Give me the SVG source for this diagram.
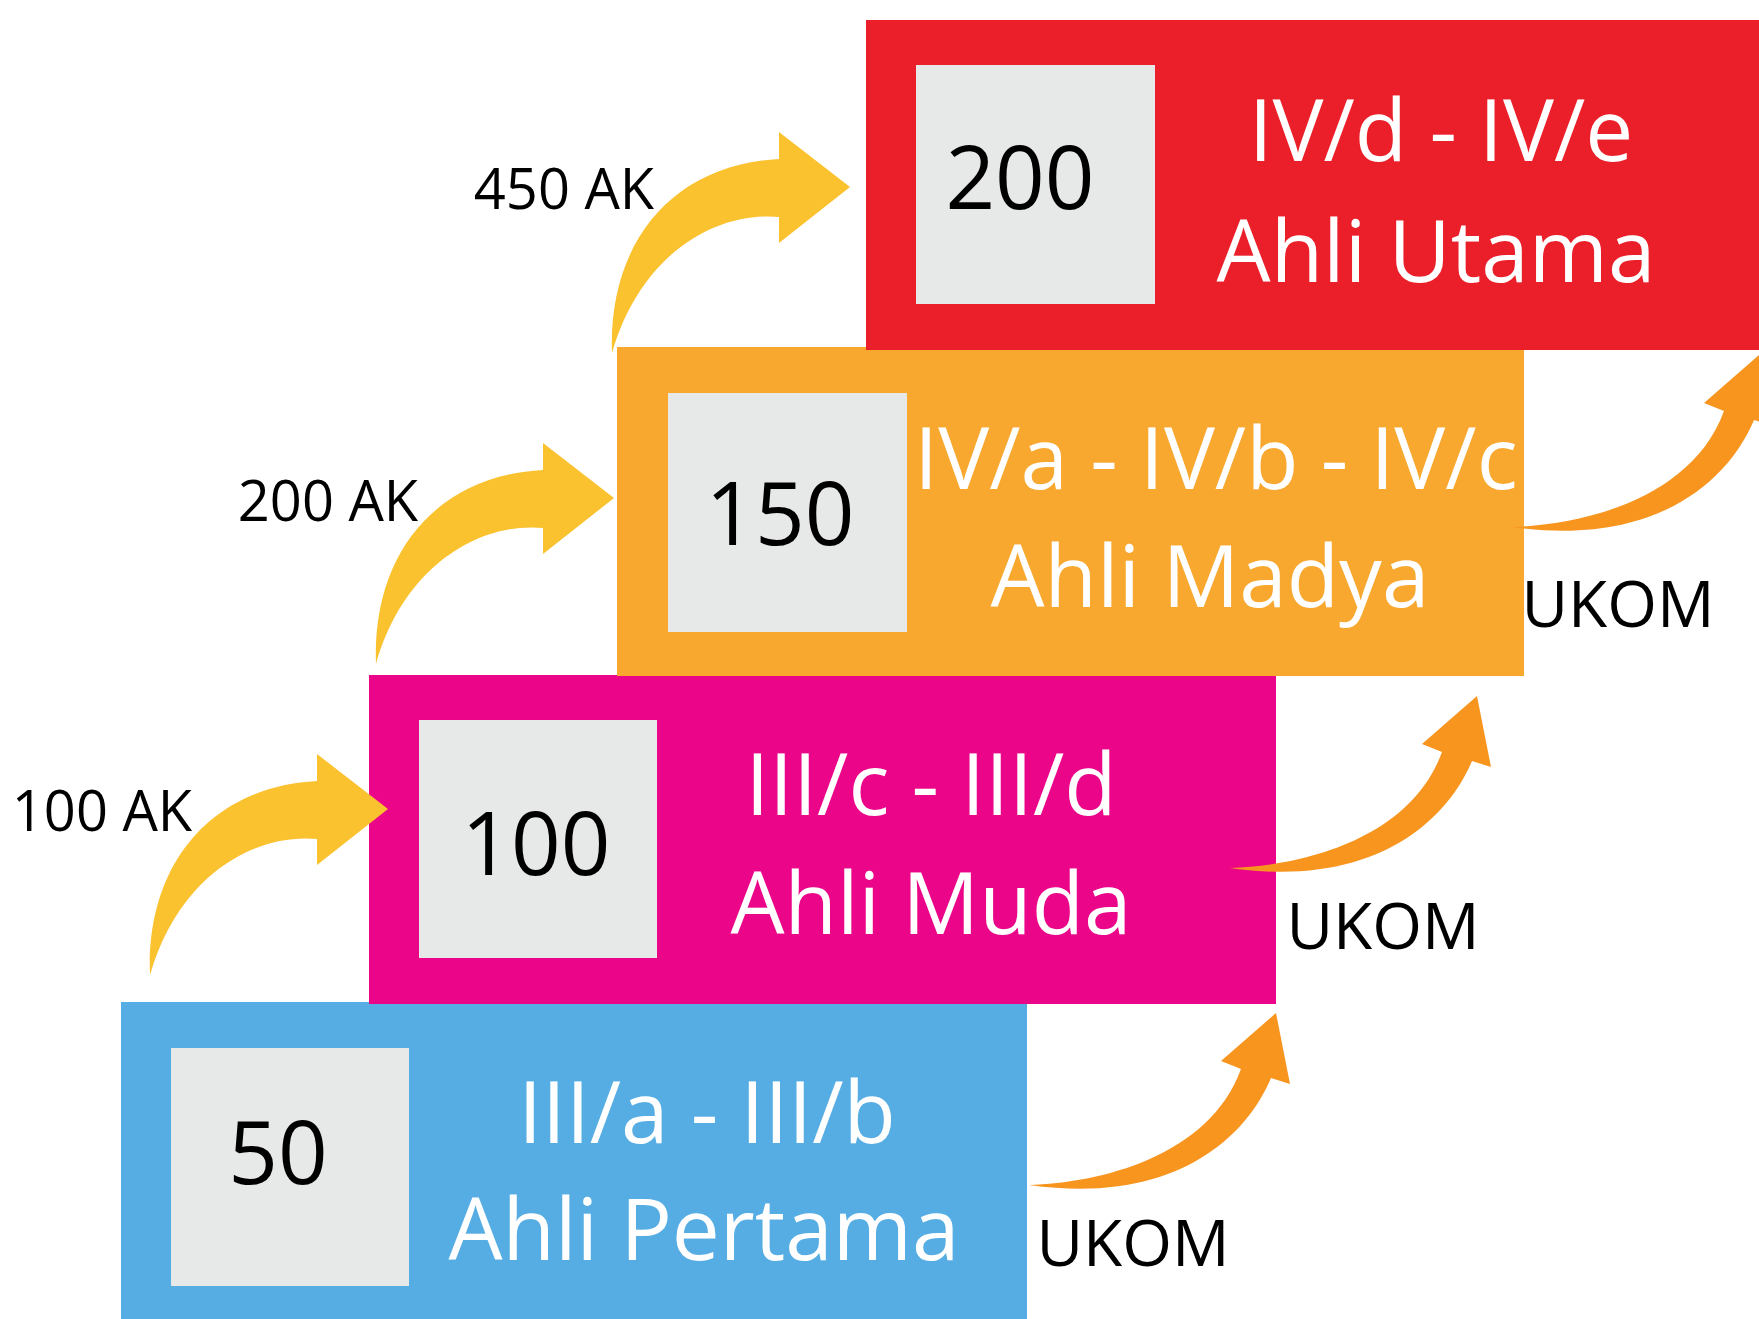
<svg xmlns="http://www.w3.org/2000/svg" xmlns:xlink="http://www.w3.org/1999/xlink" width="1759" height="1319" viewBox="0 0 1759 1319">
  <style>
    .lbl { font-family: "Open Sans", "Noto Sans", sans-serif; fill: #ffffff; font-size: 85.5px; text-anchor: middle; }
    .num { font-family: "Open Sans", "Noto Sans", sans-serif; fill: #000000; font-size: 87px; text-anchor: middle; }
    .ak { font-family: "Open Sans", "Noto Sans", sans-serif; fill: #000000; font-size: 56px; text-anchor: middle; }
    .ukom { font-family: "Open Sans", "Noto Sans", sans-serif; fill: #000000; font-size: 64px; text-anchor: middle; }
    .grey { fill: #E7E9E8; }
    .yel { fill: #FBC22F; }
    .org { fill: #F7951F; }
  </style>
  <defs>
    <path id="yArrow" d="M612,353 C608,245 670,165 779,159 L779,132 L850,187 L779,243 L779,217 C715,211 640,255 612,353 Z"/>
    <path id="oArrow" d="M1230,868 C1300,866 1410,840 1442,752 L1422,744 L1477,696 L1491,767 L1472,761 C1445,825 1370,888 1230,868 Z"/>
  </defs>
  <rect width="1759" height="1319" fill="#ffffff"/>

  <g id="node-pertama">
    <rect x="121" y="1002" width="906" height="317" fill="#55ADE3"/>
    <rect class="grey" x="171" y="1048" width="238" height="238"/>
    <text class="num" x="278" y="1184">50</text>
    <text class="lbl" x="707" y="1143">III/a - III/b</text>
    <text class="lbl" x="704" y="1260">Ahli Pertama</text>
  </g>

  <g id="node-muda">
    <rect x="369" y="675" width="907" height="329" fill="#EA0589"/>
    <rect class="grey" x="419" y="720" width="238" height="238"/>
    <text class="num" x="536" y="875">100</text>
    <text class="lbl" x="931" y="815">III/c - III/d</text>
    <text class="lbl" x="931" y="934">Ahli Muda</text>
  </g>

  <g id="node-madya">
    <rect x="617" y="347" width="907" height="329" fill="#F8A72F"/>
    <rect class="grey" x="668" y="393" width="239" height="239"/>
    <text class="num" x="780" y="545">150</text>
    <text class="lbl" x="1216" y="489">IV/a - IV/b - IV/c</text>
    <text class="lbl" x="1210" y="607">Ahli Madya</text>
  </g>

  <g id="node-utama">
    <rect x="866" y="20" width="893" height="330" fill="#EB1F29"/>
    <rect class="grey" x="916" y="65" width="239" height="239"/>
    <text class="num" x="1020" y="209">200</text>
    <text class="lbl" x="1441" y="161">IV/d - IV/e</text>
    <text class="lbl" x="1436" y="282">Ahli Utama</text>
  </g>

  <g id="connectors">
    <use href="#yArrow" class="yel"/>
    <use href="#yArrow" class="yel" transform="translate(-236,311)"/>
    <use href="#yArrow" class="yel" transform="translate(-462,622)"/>
    <use href="#oArrow" class="org" transform="translate(-201,317)"/>
    <use href="#oArrow" class="org"/>
    <use href="#oArrow" class="org" transform="translate(282,-341)"/>
  </g>

  <g id="labels">
    <text class="ak" x="564" y="209">450 AK</text>
    <text class="ak" x="328" y="521">200 AK</text>
    <text class="ak" x="102" y="831">100 AK</text>
    <text class="ukom" x="1618" y="627">UKOM</text>
    <text class="ukom" x="1383" y="949">UKOM</text>
    <text class="ukom" x="1133" y="1266">UKOM</text>
  </g>
</svg>
